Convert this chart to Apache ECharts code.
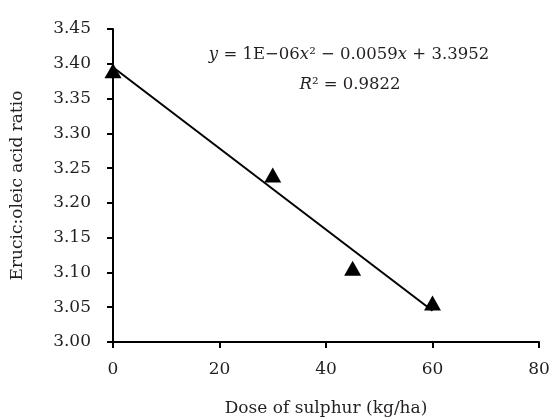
<!DOCTYPE html>
<html><head><meta charset="utf-8">
<script src="https://cdn.jsdelivr.net/npm/echarts@6/dist/echarts.min.js"></script>
<style>html,body{margin:0;padding:0;background:#fff}#c{width:553px;height:419px}</style>
</head><body><div id="c"></div>
<script>
const doses = [0, 30, 45, 60];
const ratios = [3.39, 3.24, 3.106, 3.056];
const trendX = [0, 60];
const trendY = [3.395, 3.045];
const xTicks = [0, 20, 40, 60, 80];
const yTicks = [3.00, 3.05, 3.10, 3.15, 3.20, 3.25, 3.30, 3.35, 3.40, 3.45];
const xTitle = 'Dose of sulphur (kg/ha)';
const yTitle = 'Erucic:oleic acid ratio';

const F = 'DejaVu Serif';
const C = '#231f20';
const chart = echarts.init(document.getElementById('c'));
chart.setOption({
  animation: false,
  grid: {left: 113, right: 14, top: 29, bottom: 77, containLabel: false, outerBoundsMode: 'none'},
  xAxis: {
    type: 'value', min: 0, max: 80, interval: 20,
    name: xTitle, nameLocation: 'middle', nameGap: 58,
    nameTextStyle: {fontFamily: F, fontSize: 17, color: C},
    axisLine: {show: true, onZero: false, lineStyle: {color: '#000', width: 2}},
    axisTick: {show: true, length: 6, lineStyle: {color: '#000', width: 2}},
    axisLabel: {fontFamily: F, fontSize: 17, color: C, margin: 19},
    splitLine: {show: false}
  },
  yAxis: {
    type: 'value', min: 3.0, max: 3.45, interval: 0.05,
    name: yTitle, nameLocation: 'middle', nameGap: 87,
    nameTextStyle: {fontFamily: F, fontSize: 17, color: C},
    axisLine: {show: true, lineStyle: {color: '#000', width: 2}},
    axisTick: {show: true, length: 6, lineStyle: {color: '#000', width: 2}},
    axisLabel: {fontFamily: F, fontSize: 17, color: C, margin: 22,
      formatter: v => v.toFixed(2)},
    splitLine: {show: false}
  },
  series: [
    {type: 'line', data: trendX.map((x, i) => [x, trendY[i]]), symbol: 'none',
     lineStyle: {color: '#000', width: 2}, z: 2},
    {type: 'scatter', data: doses.map((x, i) => [x, ratios[i]]), symbol: 'triangle',
     symbolSize: [17, 15], itemStyle: {color: '#000', opacity: 1}, z: 3}
  ],
  graphic: [
    {type: 'text', x: 349, y: 55, z: 10,
     style: {text: '{i|y} = 1E\u221206{i|x}\u00b2 \u2212 0.0059{i|x} + 3.3952', align: 'center', verticalAlign: 'middle',
       fontFamily: F, fontSize: 16.5, fill: C,
       rich: {i: {fontStyle: 'italic', fontFamily: F, fontSize: 16.5, fill: C}}}},
    {type: 'text', x: 350, y: 85, z: 10,
     style: {text: '{i|R}\u00b2 = 0.9822', align: 'center', verticalAlign: 'middle',
       fontFamily: F, fontSize: 16.5, fill: C,
       rich: {i: {fontStyle: 'italic', fontFamily: F, fontSize: 16.5, fill: C}}}}
  ]
});
</script></body></html>
